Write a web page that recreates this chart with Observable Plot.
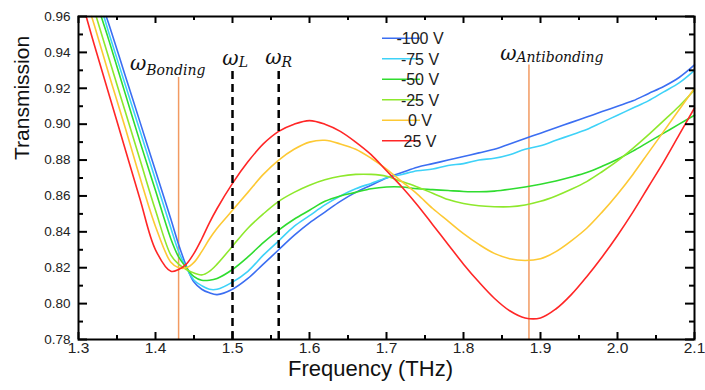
<!DOCTYPE html>
<html><head><meta charset="utf-8">
<script src="https://cdn.jsdelivr.net/npm/d3@7"></script>
<script src="https://cdn.jsdelivr.net/npm/@observablehq/plot@0.6"></script>
<style>body{margin:0;background:#fff;overflow:hidden} #chart{width:705px;height:390px;position:relative} #chart svg{display:block;position:absolute;left:0;top:0}</style>
</head><body><div id="chart"></div>
<script>
const frequency = [1.30,1.32,1.34,1.36,1.38,1.40,1.42,1.43,1.44,1.45,1.46,1.47,1.48,1.50,1.52,1.54,1.56,1.58,1.60,1.62,1.64,1.66,1.68,1.70,1.72,1.74,1.76,1.78,1.80,1.82,1.84,1.86,1.88,1.90,1.92,1.94,1.96,1.98,2.00,2.02,2.04,2.06,2.08,2.10];
const tM100 = [1.008,0.981,0.955,0.928,0.901,0.874,0.847,0.833,0.821,0.812,0.808,0.806,0.805,0.808,0.814,0.822,0.830,0.838,0.845,0.851,0.857,0.862,0.866,0.870,0.873,0.876,0.878,0.880,0.882,0.884,0.886,0.889,0.892,0.895,0.898,0.901,0.904,0.907,0.910,0.913,0.917,0.921,0.926,0.933];
const tM75 = [1.005,0.978,0.950,0.923,0.896,0.869,0.842,0.829,0.820,0.813,0.810,0.808,0.808,0.812,0.818,0.827,0.835,0.843,0.849,0.855,0.860,0.864,0.867,0.870,0.872,0.874,0.875,0.877,0.878,0.880,0.881,0.883,0.886,0.888,0.891,0.894,0.897,0.901,0.905,0.909,0.913,0.918,0.923,0.930];
const tM50 = [1.001,0.973,0.946,0.918,0.890,0.863,0.836,0.826,0.820,0.815,0.813,0.813,0.814,0.819,0.826,0.834,0.841,0.847,0.852,0.857,0.860,0.862,0.864,0.865,0.865,0.864,0.8635,0.863,0.8625,0.8623,0.8627,0.8637,0.865,0.8665,0.8683,0.8705,0.873,0.8765,0.8805,0.885,0.890,0.895,0.900,0.905];
const tM25 = [0.992,0.964,0.936,0.908,0.880,0.852,0.827,0.822,0.819,0.817,0.816,0.818,0.822,0.832,0.842,0.850,0.857,0.862,0.866,0.869,0.871,0.872,0.872,0.871,0.868,0.865,0.8615,0.858,0.8558,0.8545,0.854,0.854,0.855,0.857,0.860,0.8637,0.868,0.8735,0.8795,0.8865,0.894,0.902,0.910,0.919];
const t0 = [0.984,0.956,0.927,0.899,0.870,0.843,0.823,0.820,0.820,0.823,0.829,0.836,0.842,0.852,0.862,0.872,0.880,0.886,0.890,0.891,0.889,0.886,0.881,0.875,0.868,0.861,0.853,0.846,0.839,0.833,0.828,0.825,0.824,0.825,0.829,0.835,0.842,0.851,0.861,0.872,0.884,0.896,0.908,0.920];
const tP25 = [0.975,0.945,0.916,0.887,0.858,0.830,0.818,0.819,0.822,0.828,0.836,0.845,0.853,0.867,0.879,0.889,0.896,0.900,0.902,0.900,0.896,0.890,0.883,0.874,0.865,0.855,0.844,0.833,0.822,0.812,0.803,0.796,0.792,0.792,0.797,0.805,0.815,0.826,0.838,0.851,0.865,0.879,0.894,0.909];
// frequency at which each curve leaves the top edge (T = 0.96)
const topEdgeFreq = [1.336, 1.333, 1.3295, 1.323, 1.317, 1.310];
const topEdgeT = 0.96;
const seriesNames = ["-100 V","-75 V","-50 V","-25 V","0 V","25 V"];
const seriesValues = [tM100, tM75, tM50, tM25, t0, tP25];
const seriesColors = ["#3b6ef2","#3ed2f8","#2fdc2f","#8ee82c","#fdc934","#ff2626"];

const xMajorTicks = [1.3,1.4,1.5,1.6,1.7,1.8,1.9,2.0,2.1];
const xMinorTicks = [1.35,1.45,1.55,1.65,1.75,1.85,1.95,2.05];
const yMajorTicks = [0.78,0.80,0.82,0.84,0.86,0.88,0.90,0.92,0.94,0.96];
const yMinorTicks = [0.79,0.81,0.83,0.85,0.87,0.89,0.91,0.93,0.95];

const modeFreqs = [1.43, 1.885];        // bonding, antibonding (orange)
const modeTops = [0.926, 0.933];
const probeFreqs = [1.50, 1.56];        // ω_L, ω_R (dashed)
const probeTops = [0.930, 0.931];
const labelFreqs = [1.388, 1.508, 1.5636, 1.8688];
const labelOmegaY = [0.9335, 0.9365, 0.937, 0.9395];
const labelSubY = [0.930, 0.9345, 0.9345, 0.937];
const labelSubs = ["Bonding", "L", "R", "Antibonding"];

const rows = seriesNames.flatMap((s, i) => [
  {f: topEdgeFreq[i], t: topEdgeT, s},
  ...frequency.map((f, j) => ({f, t: seriesValues[i][j], s})).filter(d => d.f > topEdgeFreq[i])
]);
const modes = modeFreqs.map((f, i) => ({f, top: modeTops[i]}));
const probes = probeFreqs.map((f, i) => ({f, top: probeTops[i]}));
const labels = labelFreqs.map((f, i) => ({f, yo: labelOmegaY[i], ys: labelSubY[i], sub: labelSubs[i]}));

const W = 705, H = 390, mt = 16, mb = 51, ml = 78, mr = 11;
const ih = H - mt - mb, iw = W - ml - mr;
const font = "Liberation Sans, Arial, Helvetica, sans-serif";
const serif = "DejaVu Serif, Liberation Serif, serif";
const tk = {stroke: "#000", strokeWidth: 2};

const svg = Plot.plot({
  width: W, height: H,
  marginTop: mt, marginBottom: mb, marginLeft: ml, marginRight: mr,
  x: {domain: [1.3, 2.1], axis: null},
  y: {domain: [0.78, 0.96], axis: null},
  color: {domain: seriesNames, range: seriesColors},
  marks: [
    Plot.ruleX(modes, {x: "f", y1: 0.78, y2: "top", stroke: "#f29a62", strokeWidth: 1.5}),
    Plot.line(rows, {x: "f", y: "t", z: "s", stroke: "s", strokeWidth: 1.6, curve: "catmull-rom"}),
    Plot.ruleX(probes, {x: "f", y1: 0.78, y2: "top", stroke: "#000", strokeWidth: 2.5, strokeDasharray: "8,5"}),
    // inward ticks on all four sides
    Plot.ruleX(xMajorTicks, {x: d => d, insetTop: ih - 7, ...tk}),
    Plot.ruleX(xMajorTicks, {x: d => d, insetBottom: ih - 7, ...tk}),
    Plot.ruleX(xMinorTicks, {x: d => d, insetTop: ih - 4, ...tk}),
    Plot.ruleX(xMinorTicks, {x: d => d, insetBottom: ih - 4, ...tk}),
    Plot.ruleY(yMajorTicks, {y: d => d, insetRight: iw - 9, ...tk}),
    Plot.ruleY(yMajorTicks, {y: d => d, insetLeft: iw - 9, ...tk}),
    Plot.ruleY(yMinorTicks, {y: d => d, insetRight: iw - 5, ...tk}),
    Plot.ruleY(yMinorTicks, {y: d => d, insetLeft: iw - 5, ...tk}),
    Plot.frame({stroke: "#000", strokeWidth: 2}),
    // tick labels
    Plot.text(xMajorTicks, {x: d => d, frameAnchor: "bottom", dy: 13, text: d => d.toFixed(1), fontSize: 15.5, fontFamily: font, fill: "#222"}),
    Plot.text(yMajorTicks, {y: d => d, frameAnchor: "left", dx: -8, textAnchor: "end", text: d => d.toFixed(2), fontSize: 13.5, fontFamily: font, fill: "#222"}),
    // axis titles
    Plot.text(["Frequency (THz)"], {frameAnchor: "bottom", dx: -16, dy: 36, fontSize: 22, fontFamily: font, fill: "#111"}),
    Plot.text(["Transmission"], {frameAnchor: "left", rotate: -90, dx: -56, dy: -18, fontSize: 21, fontFamily: font, fill: "#111"}),
    // annotation labels
    Plot.text(labels, {x: "f", y: "yo", text: () => "ω", textAnchor: "end", fontSize: 20, fontFamily: serif, fontStyle: "italic", fill: "#111"}),
    Plot.text(labels, {x: "f", y: "ys", text: "sub", textAnchor: "start", fontSize: 14, fontFamily: serif, fontStyle: "italic", fill: "#111"})
  ]
});
document.getElementById("chart").appendChild(svg);

// legend inside the frame
const lg = d3.select(svg).append("g").attr("font-family", font).attr("font-size", 16);
seriesNames.forEach((name, i) => {
  const yy = 38.3 + i * 20.5;
  lg.append("line").attr("x1", 382).attr("x2", 420).attr("y1", yy).attr("y2", yy)
    .attr("stroke", seriesColors[i]).attr("stroke-width", 1.6);
  lg.append("text").attr("x", 420).attr("y", yy).attr("dy", "0.36em").attr("fill", "#222").text(name);
});
</script></body></html>
